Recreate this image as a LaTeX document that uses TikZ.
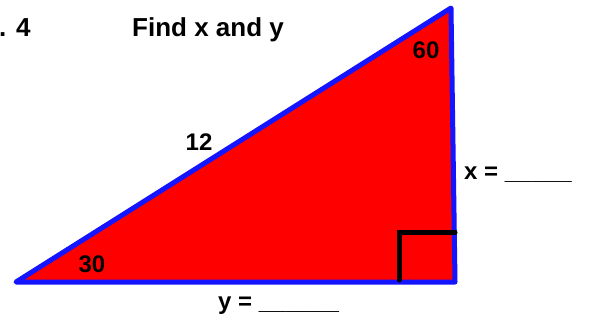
\documentclass[tikz,border=0pt]{standalone}
\usepackage{fontspec}
\setmainfont{Liberation Sans}
\usepackage{tikz}
\usepackage{xcolor}
\definecolor{TriRed}{RGB}{255,0,0}
\definecolor{TriBlue}{RGB}{20,20,255}
\usetikzlibrary{positioning,calc}

\begin{document}
\begin{tikzpicture}[
    x=1pt, y=-1pt,
    title/.style={font=\bfseries\fontsize{26}{30}\selectfont, inner sep=0pt},
    lbl/.style={font=\bfseries\fontsize{24}{28}\selectfont, inner sep=0pt},
    ang/.style={font=\bfseries\fontsize{24}{28}\selectfont, inner sep=0pt},
    side/.style={draw=TriBlue, line width=5pt, line join=round, fill=TriRed},
    rmark/.style={draw=black, line width=5pt, line cap=round}
]
    \useasboundingbox (0,0) rectangle (593,320);
    % triangle corners
    \coordinate (A) at (16,282);
    \coordinate (B) at (451,8);
    \coordinate (C) at (455,282);
    \filldraw[side] (A) -- (B) -- (C) -- cycle;
    % right angle mark
    \coordinate (r1) at (399,280);
    \coordinate (r2) at (399,232);
    \coordinate (r3) at (455,232);
    \draw[rmark] (r1) -- (r2) -- (r3);
    % texts
    \node[title, anchor=base west] (num) at (-1,37) {. 4};
    \node[title, anchor=base west] (task) at (132,37) {Find x and y};
    \node[ang] (top) at (426,50) {60};
    \node[ang] (low) at (92,264) {30};
    \node[ang] (hyp) at (199,142) {12};
    \node[lbl, anchor=base west] (xval) at (464,179) {x = \_\_\_\_\_};
    \node[lbl, anchor=base west] (yval) at (218,309) {y = \_\_\_\_\_\_};
\end{tikzpicture}
\end{document}
